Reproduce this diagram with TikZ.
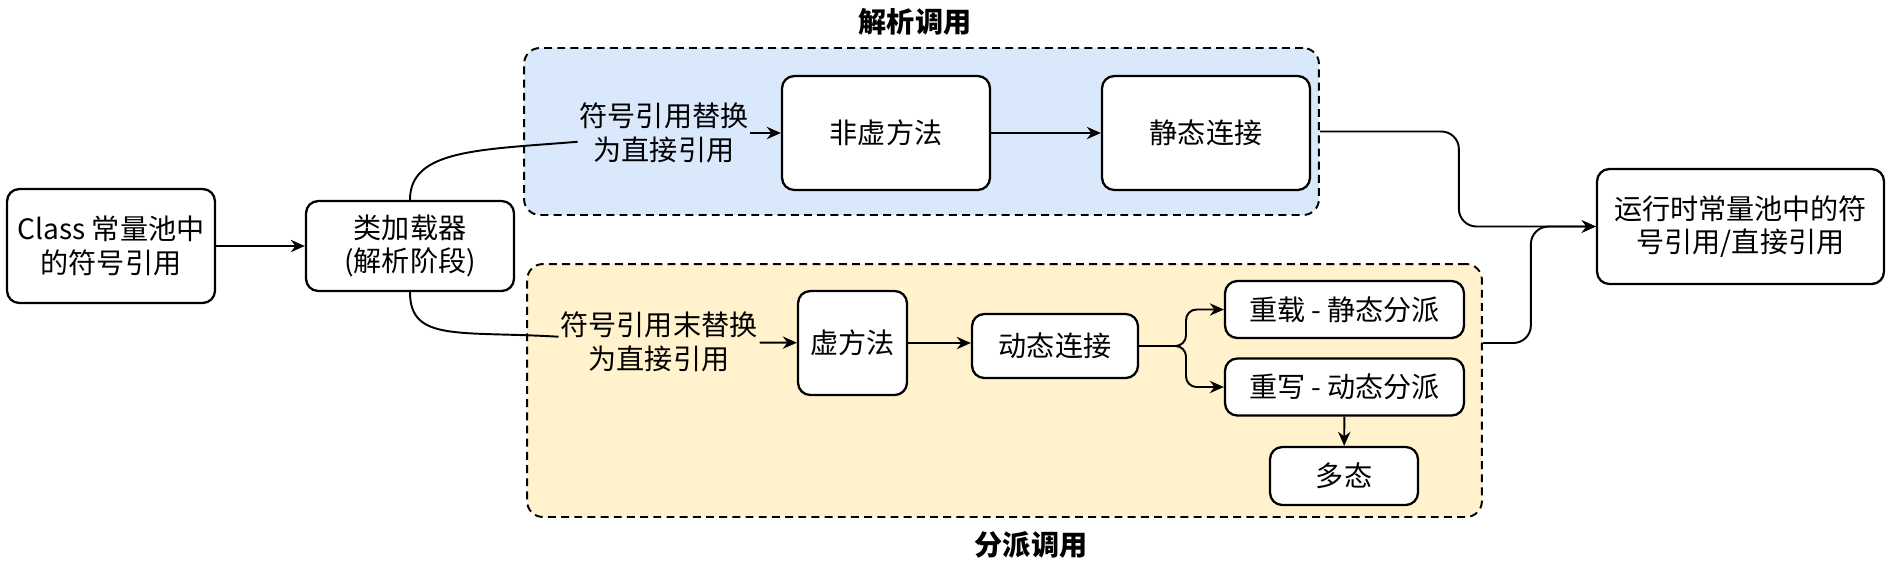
\documentclass[tikz,border=0pt]{standalone}
\usepackage{fontspec}
\setmainfont{Noto Sans CJK SC}
\usetikzlibrary{arrows.meta}

\definecolor{blueback}{HTML}{DAE8FC}
\definecolor{yellowback}{HTML}{FFF2CC}

\begin{document}
\begin{tikzpicture}[x=0.02cm, y=-0.02cm,
  box/.style={draw, line width=1.3pt, rounded corners=7pt, fill=white, align=center,
    font=\fontsize{16}{19}\selectfont, inner sep=0pt},
  txt/.style={align=center, font=\fontsize{16}{19}\selectfont, inner sep=1pt},
  group/.style={draw, dash pattern=on 4.5pt off 3pt, line width=1.1pt, rounded corners=9pt, inner sep=0pt},
  link/.style={line width=1.1pt, -{Stealth[length=8pt,width=7pt]}},
  title/.style={font=\fontsize{16}{19}\selectfont\bfseries}]

\useasboundingbox (0,0) rectangle (1896,566);

% groups
\node [group, fill=blueback, minimum width=15.9cm, minimum height=3.34cm] (resolve) at (921.5,131.5) {};
\node [group, fill=yellowback, minimum width=19.1cm, minimum height=5.06cm] (dispatch) at (1004.5,390.5) {};
\node [title] (resolvetitle) at (915,22) {解析调用};
\node [title] (dispatchtitle) at (1031,545) {分派调用};

% boxes
\node [box, minimum width=4.16cm, minimum height=2.28cm] (cls) at (111,246) {Class 常量池中\\的符号引用};
\node [box, minimum width=4.16cm, minimum height=1.8cm] (loader) at (410,246) {类加载器\\(解析阶段)};
\node [txt] (lbl1) at (664,133) {符号引用替换\\为直接引用};
\node [box, minimum width=4.16cm, minimum height=2.28cm] (nonvirt) at (886,133) {非虚方法};
\node [box, minimum width=4.16cm, minimum height=2.28cm] (static) at (1206,133) {静态连接};
\node [txt] (lbl2) at (659,342) {符号引用末替换\\为直接引用};
\node [box, minimum width=2.18cm, minimum height=2.08cm] (virt) at (852.5,343) {虚方法};
\node [box, minimum width=3.32cm, minimum height=1.28cm] (dyn) at (1055,346) {动态连接};
\node [box, minimum width=4.78cm, minimum height=1.14cm] (overload) at (1344.5,309.5) {重载 - 静态分派};
\node [box, minimum width=4.78cm, minimum height=1.14cm] (override) at (1344.5,387) {重写 - 动态分派};
\node [box, minimum width=2.96cm, minimum height=1.16cm] (poly) at (1344,476) {多态};
\node [box, minimum width=5.74cm, minimum height=2.3cm] (runtime) at (1740.5,226.5) {运行时常量池中的符\\号引用/直接引用};

% connectors
\draw [link] (cls) -- (loader);
\draw [line width=1.1pt] (loader.north) .. controls +(0,-50) and +(-100,8) .. ([yshift=-5pt]lbl1.west);
\draw [line width=1.1pt] (loader.south) .. controls +(0,50) and +(-100,-6) .. ([yshift=3pt]lbl2.west);
\draw [link] (lbl1) -- (nonvirt);
\draw [link] (nonvirt) -- (static);
\draw [link] (lbl2) -- (virt);
\draw [link] (virt) -- (virt -| dyn.west);
\coordinate (fork) at (1186,346);
\draw [link, rounded corners=6pt] (dyn.east) -- (fork) |- (overload.west);
\draw [link, rounded corners=6pt] (dyn.east) -- (fork) |- (override.west);
\draw [link] (override) -- (poly);
\draw [link, rounded corners=10pt] (resolve.east) -- ++(139,0) |- (runtime.west);
\coordinate (dispatchout) at (dispatch.east |- virt.east);
\draw [link, rounded corners=10pt] (dispatchout) -- ++(48,0) |- (runtime.west);

\end{tikzpicture}
\end{document}
